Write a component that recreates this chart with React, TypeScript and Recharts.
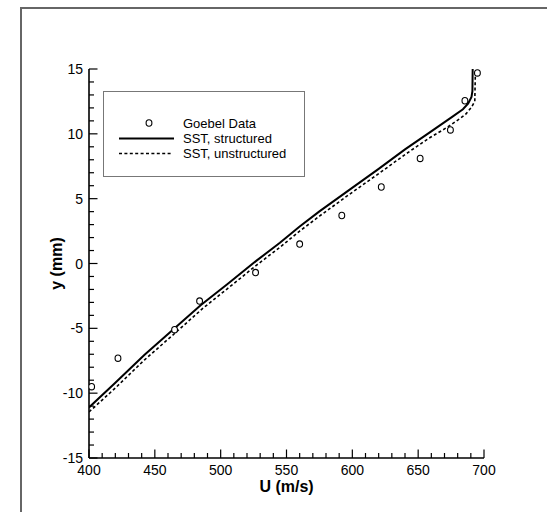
import { ComposedChart, Line, Scatter, XAxis, YAxis, Label } from 'recharts';

// Goebel measurements
const goebelU = [402, 422, 465, 484, 526.5, 560, 592, 622, 651.5, 674.5, 685.5, 695];
const goebelY = [-9.5, -7.3, -5.1, -2.9, -0.7, 1.5, 3.7, 5.9, 8.1, 10.3, 12.55, 14.7];

// SST, structured grid
const structU = [400, 420, 442, 465, 485, 505, 527, 545, 560, 575, 598, 620, 640, 658, 675, 684, 688, 690.5, 691.2, 691.4];
const structY = [-11.1, -9.2, -7.05, -5.0, -3.2, -1.6, 0.2, 1.6, 2.85, 4.02, 5.7, 7.3, 8.8, 10.05, 11.25, 11.9, 12.35, 12.85, 13.3, 15];

// SST, unstructured grid
const unstructU = [400, 420, 442, 465, 486, 505, 527, 545, 560, 575, 598, 621, 640, 658, 672, 680, 686, 690.5, 693, 693.4];
const unstructY = [-11.45, -9.6, -7.45, -5.4, -3.5, -1.95, -0.15, 1.25, 2.5, 3.65, 5.35, 7.0, 8.4, 9.65, 10.5, 11.05, 11.5, 12.05, 12.5, 14.5];

const seriesNames = ['Goebel Data', 'SST, structured', 'SST, unstructured'];

const xMajor = [400, 450, 500, 550, 600, 650, 700];
const yMajor = [-15, -10, -5, 0, 5, 10, 15];

// minor ticks: 5 steps between majors
const withMinor = (major: number[]) => {
  const out: number[] = [];
  for (let i = 0; i < major.length - 1; i++) {
    const step = (major[i + 1] - major[i]) / 5;
    for (let k = 0; k < 5; k++) out.push(major[i] + step * k);
  }
  out.push(major[major.length - 1]);
  return out;
};
const xTicks = withMinor(xMajor);
const yTicks = withMinor(yMajor);

const toPoints = (us: number[], ys: number[]) => us.map((u, i) => ({ u, y: ys[i] }));
const goebelData = toPoints(goebelU, goebelY);
const structData = toPoints(structU, structY);
const unstructData = toPoints(unstructU, unstructY);

const FONT = '"Liberation Sans", Arial, Helvetica, sans-serif';
const DASH = '3 2.4';

function XTick({ x, y, payload }: any) {
  const major = xMajor.includes(payload.value);
  return (
    <g>
      <line x1={x} x2={x} y1={y} y2={y - (major ? 8.5 : 5)} stroke="#000" strokeWidth={1.2} />
      {major && (
        <text x={x} y={y + 17} textAnchor="middle" fontSize={14} fontFamily={FONT} fill="#000">
          {payload.value}
        </text>
      )}
    </g>
  );
}

function YTick({ x, y, payload }: any) {
  const major = yMajor.includes(payload.value);
  return (
    <g>
      <line x1={x} x2={x + (major ? 8.5 : 5)} y1={y} y2={y} stroke="#000" strokeWidth={1.2} />
      {major && (
        <text x={x - 6} y={y + 5} textAnchor="end" fontSize={14} fontFamily={FONT} fill="#000">
          {payload.value}
        </text>
      )}
    </g>
  );
}

const Marker = (props: any) => (
  <ellipse cx={props.cx} cy={props.cy} rx={2.9} ry={3.2} fill="#fff" stroke="#000" strokeWidth={1.1} />
);

function LegendBox() {
  return (
    <div
      style={{
        position: 'absolute',
        left: 103,
        top: 91,
        width: 200,
        height: 84,
        border: '1px solid #777',
        background: '#fff',
      }}
    >
      <svg width={200} height={84} style={{ display: 'block' }}>
        <ellipse cx={45} cy={31} rx={2.9} ry={3.2} fill="#fff" stroke="#000" strokeWidth={1.1} />
        <line x1={15} x2={70} y1={46.5} y2={46.5} stroke="#000" strokeWidth={2} />
        <line x1={15} x2={69} y1={61.5} y2={61.5} stroke="#000" strokeWidth={1.6} strokeDasharray={DASH} />
        {seriesNames.map((name, i) => (
          <text key={name} x={79} y={31 + i * 15.3 + 4.6} fontSize={13} fontFamily={FONT} fill="#000">
            {name}
          </text>
        ))}
      </svg>
    </div>
  );
}

export default function App() {
  return (
    <div
      style={{
        position: 'absolute',
        left: 0,
        top: 0,
        width: 547,
        height: 512,
        overflow: 'hidden',
        background: '#fff',
        fontFamily: FONT,
      }}
    >
      <div
        style={{
          position: 'absolute',
          left: 20,
          top: 7,
          width: 600,
          height: 600,
          border: '2px solid #666',
        }}
      />
      <div style={{ position: 'absolute', left: 0, top: 0 }}>
        <ComposedChart width={547} height={512} margin={{ top: 69, right: 63, bottom: 0, left: 0 }}>
          <XAxis
            type="number"
            dataKey="u"
            domain={[400, 700]}
            ticks={xTicks}
            interval={0}
            tickSize={0}
            tickMargin={0}
            tickLine={false}
            tick={<XTick />}
            height={54}
            axisLine={{ stroke: '#000', strokeWidth: 1.6 }}
            allowDataOverflow
          >
            <Label
              content={(p: any) => (
                <text
                  x={p.viewBox.x + p.viewBox.width / 2}
                  y={p.viewBox.y + 34}
                  textAnchor="middle"
                  fontSize={16}
                  fontWeight="bold"
                  fontFamily={FONT}
                  fill="#000"
                >
                  U (m/s)
                </text>
              )}
            />
          </XAxis>
          <YAxis
            type="number"
            dataKey="y"
            domain={[-15, 15]}
            ticks={yTicks}
            interval={0}
            tickSize={0}
            tickMargin={0}
            tickLine={false}
            tick={<YTick />}
            width={89}
            axisLine={{ stroke: '#000', strokeWidth: 1.6 }}
            allowDataOverflow
          >
            <Label
              content={(p: any) => {
                const cx = p.viewBox.x + 56;
                const cy = p.viewBox.y + p.viewBox.height / 2;
                return (
                  <text
                    x={cx}
                    y={cy}
                    transform={`rotate(-90 ${cx} ${cy})`}
                    textAnchor="middle"
                    dominantBaseline="central"
                    fontSize={16}
                    fontWeight="bold"
                    fontFamily={FONT}
                    fill="#000"
                  >
                    y (mm)
                  </text>
                );
              }}
            />
          </YAxis>
          <Line
            data={structData}
            dataKey="y"
            name={seriesNames[1]}
            type="linear"
            stroke="#000"
            strokeWidth={2}
            dot={false}
            activeDot={false}
            isAnimationActive={false}
          />
          <Line
            data={unstructData}
            dataKey="y"
            name={seriesNames[2]}
            type="linear"
            stroke="#000"
            strokeWidth={1.6}
            strokeDasharray={DASH}
            dot={false}
            activeDot={false}
            isAnimationActive={false}
          />
          <Scatter
            data={goebelData}
            dataKey="y"
            name={seriesNames[0]}
            shape={Marker}
            isAnimationActive={false}
          />
        </ComposedChart>
      </div>
      <LegendBox />
    </div>
  );
}
